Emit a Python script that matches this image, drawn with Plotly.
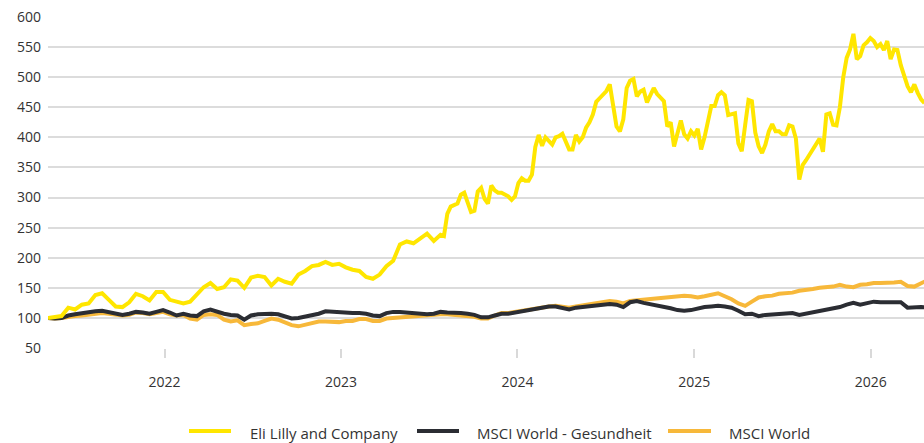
import pandas as pd
import plotly.graph_objects as go

# Index dates: biweekly from May 2021
dates = pd.date_range("2021-05-05", periods=131, freq="14D")
# Eli Lilly dates: biweekly until mid-2023, weekly afterwards (more volatile period)
lilly_dates = pd.date_range("2021-05-05", periods=58, freq="14D").append(
    pd.date_range("2023-07-26", periods=144, freq="7D"))

lilly = [100, 101, 103, 117, 114, 122, 124, 138, 141, 130,
         119, 118, 126, 140, 136, 129, 143, 143, 130, 127,
         124, 127, 140, 151, 158, 148, 151, 164, 162, 150,
         167, 170, 168, 154, 165, 160, 157, 172, 178, 186,
         188, 193, 188, 190, 184, 180, 178, 168, 165, 172,
         186, 195, 222, 227, 224, 232, 240, 228,
         # weekly from late July 2023
         238, 236, 273, 285, 287, 290, 305, 308, 292, 276,
         278, 310, 316, 298, 290, 320, 312, 308, 308, 305,
         302, 296, 302, 324, 332, 328, 328, 338, 384, 404,
         386, 400, 395, 388, 400, 402, 406, 392, 380, 380,
         404, 393, 400, 416, 425, 438, 459, 465, 470, 477,
         488, 455, 418, 410, 430, 482, 494, 497, 468, 476,
         479, 458, 470, 482, 472, 467, 460, 418, 425, 385,
         410, 428, 405, 398, 410, 403, 414, 380, 400, 425,
         452, 452, 470, 475, 470, 437, 438, 440, 390, 377,
         420, 462, 460, 408, 385, 374, 388, 410, 422, 410,
         410, 405, 405, 420, 418, 398, 330, 354, 362, 372,
         382, 389, 398, 376, 438, 440, 421, 420, 450, 500,
         532, 546, 572, 530, 535, 553, 558, 565, 560, 550,
         555, 545, 560, 530, 546, 545, 520, 500, 485, 475,
         488, 474, 463, 457]

msci_health = [100, 99, 100, 104, 106, 108, 109, 111, 112, 110,
               107, 105, 107, 110, 109, 107, 110, 113, 109, 104,
               107, 104, 103, 111, 114, 110, 107, 105, 104, 97,
               104, 106, 107, 107, 106, 102, 99, 100, 102, 105,
               107, 111, 110, 109, 109, 108, 108, 107, 104, 103,
               108, 110, 110, 109, 109, 108, 106, 107, 110, 109,
               109, 108, 107, 105, 101, 101, 104, 107, 107, 109,
               112, 114, 116, 118, 119, 119, 117, 114, 117, 118,
               119, 120, 122, 123, 122, 118, 126, 128, 125, 123,
               121, 119, 116, 113, 112, 113, 116, 118, 119, 120,
               119, 117, 112, 106, 107, 103, 105, 106, 107, 107,
               108, 105, 107, 110, 111, 113, 115, 118, 122, 125,
               122, 124, 127, 126, 126, 127, 126, 117, 118, 118,
               117]

msci_world = [100, 99, 100, 102, 103, 104, 105, 107, 108, 107,
              106, 104, 105, 109, 108, 106, 108, 110, 106, 104,
              105, 99, 97, 105, 106, 105, 97, 94, 96, 88,
              90, 91, 95, 99, 97, 93, 88, 86, 89, 91,
              94, 94, 93, 93, 95, 95, 98, 98, 95, 95,
              99, 100, 101, 101, 102, 103, 104, 105, 106, 106,
              105, 105, 104, 102, 99, 99, 104, 108, 108, 110,
              112, 114, 116, 118, 119, 120, 119, 117, 119, 121,
              122, 124, 126, 128, 127, 124, 128, 129, 130, 131,
              133, 134, 135, 136, 137, 136, 134, 136, 138, 141,
              136, 131, 124, 120, 127, 134, 136, 137, 140, 141,
              142, 145, 146, 148, 150, 151, 152, 155, 152, 151,
              155, 156, 158, 158, 158, 159, 160, 153, 152, 157,
              163]

names = ["Eli Lilly and Company", "MSCI World - Gesundheit", "MSCI World"]
colors = ["#FFE600", "#2B2D33", "#F7B83A"]
y_ticks = [50, 100, 150, 200, 250, 300, 350, 400, 450, 500, 550, 600]

W, H = 924, 443
ML, MR, MT, MB = 48, 0, 17, 95
PW, PH = W - ML - MR, H - MT - MB

fig = go.Figure()
series = [(lilly_dates, lilly), (dates, msci_health), (dates, msci_world)]
for idx in [2, 1, 0]:
    xs, ys = series[idx]
    fig.add_trace(go.Scatter(
        x=xs, y=ys, mode="lines", name=names[idx],
        line=dict(color=colors[idx], width=4),
        hoverinfo="skip", showlegend=False,
    ))

# Custom legend (pixel layout converted to paper coordinates)
def px_x(p):
    return (p - ML) / PW

def px_y(p):
    return (H - MB - p) / PH

legend_items = [(189, 231, 248), (417, 459, 475), (668, 711, 727)]
leg_y = 433
for (x0, x1, xt), name, col in zip(legend_items, names, colors):
    fig.add_shape(type="line", xref="paper", yref="paper",
                  x0=px_x(x0), x1=px_x(x1), y0=px_y(leg_y - 2), y1=px_y(leg_y - 2),
                  line=dict(color=col, width=4))
    fig.add_annotation(xref="paper", yref="paper", x=px_x(xt), y=px_y(leg_y),
                       text=name, showarrow=False, xanchor="left", yanchor="middle",
                       font=dict(size=15, color="#333333"))

fig.update_layout(
    width=W, height=H,
    margin=dict(l=ML, r=MR, t=MT, b=MB, autoexpand=False),
    plot_bgcolor="white", paper_bgcolor="white",
    font=dict(family="Open Sans, sans-serif", size=14, color="#333333"),
    showlegend=False,
)
fig.update_xaxes(
    range=["2021-05-05", "2026-04-21"],
    tickformat="%Y", dtick="M12", tick0="2022-01-01",
    ticks="outside", ticklen=9, tickcolor="#d9d9d9", tickwidth=1.5,
    showgrid=False, showline=False, zeroline=False, automargin=False,
    tickfont=dict(size=14, color="#333333"),
    ticklabelstandoff=12,
)
fig.update_yaxes(
    range=[50, 600], tickvals=y_ticks,
    showgrid=True, gridcolor="#dcdcdc", gridwidth=1.5,
    zeroline=False, showline=False, ticks="", automargin=False,
    tickfont=dict(size=14, color="#333333"),
    ticklabelstandoff=6,
)
fig.write_html("out.html", config={"displayModeBar": False},
               post_script="document.body.style.margin='0';document.body.style.overflow='hidden';")
